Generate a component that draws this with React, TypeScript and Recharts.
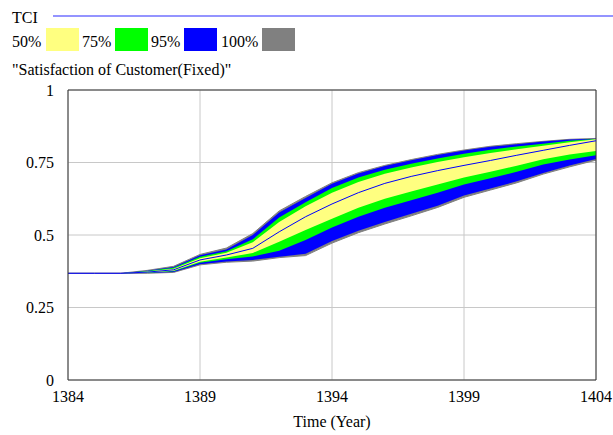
import React from 'react';
import {
  ComposedChart,
  Area,
  Line,
  XAxis,
  YAxis,
  CartesianGrid,
  ReferenceLine,
} from 'recharts';

// Vensim-style sensitivity bands for "Satisfaction of Customer(Fixed)"
const years = [
  1384, 1385, 1386, 1387, 1388, 1389, 1390, 1391, 1392, 1393, 1394,
  1395, 1396, 1397, 1398, 1399, 1400, 1401, 1402, 1403, 1404,
];

const tci = [
  0.368, 0.368, 0.368, 0.372, 0.38, 0.414, 0.431, 0.454, 0.511, 0.563, 0.607,
  0.646, 0.678, 0.702, 0.722, 0.74, 0.757, 0.775, 0.792, 0.809, 0.825,
];

const hi100 = [
  0.368, 0.368, 0.368, 0.378, 0.392, 0.433, 0.455, 0.505, 0.583, 0.633, 0.68,
  0.715, 0.74, 0.76, 0.778, 0.793, 0.806, 0.815, 0.823, 0.83, 0.833,
];
const hi95 = [
  0.368, 0.368, 0.368, 0.377, 0.39, 0.43, 0.45, 0.5, 0.578, 0.628, 0.677,
  0.712, 0.738, 0.758, 0.776, 0.791, 0.804, 0.813, 0.822, 0.829, 0.832,
];
const hi75 = [
  0.368, 0.368, 0.368, 0.376, 0.387, 0.425, 0.444, 0.485, 0.56, 0.613, 0.662,
  0.698, 0.725, 0.746, 0.764, 0.78, 0.794, 0.805, 0.815, 0.825, 0.831,
];
const hi50 = [
  0.368, 0.368, 0.368, 0.374, 0.384, 0.42, 0.439, 0.475, 0.545, 0.599, 0.646,
  0.683, 0.711, 0.733, 0.752, 0.768, 0.783, 0.796, 0.808, 0.82, 0.83,
];
const lo50 = [
  0.368, 0.368, 0.368, 0.371, 0.377, 0.408, 0.422, 0.438, 0.477, 0.517, 0.556,
  0.594, 0.625, 0.65, 0.674, 0.698, 0.718, 0.739, 0.761, 0.778, 0.79,
];
const lo75 = [
  0.368, 0.368, 0.368, 0.37, 0.375, 0.404, 0.416, 0.426, 0.446, 0.483, 0.526,
  0.563, 0.594, 0.62, 0.646, 0.674, 0.696, 0.718, 0.743, 0.76, 0.775,
];
const lo95 = [
  0.368, 0.368, 0.368, 0.369, 0.372, 0.399, 0.409, 0.414, 0.425, 0.435, 0.479,
  0.515, 0.545, 0.573, 0.601, 0.636, 0.66, 0.685, 0.714, 0.74, 0.762,
];
const lo100 = [
  0.368, 0.368, 0.368, 0.368, 0.371, 0.397, 0.406, 0.41, 0.422, 0.429, 0.472,
  0.508, 0.538, 0.566, 0.595, 0.63, 0.655, 0.68, 0.71, 0.735, 0.758,
];

const xTicks = [1384, 1389, 1394, 1399, 1404];
const yTicks = [0, 0.25, 0.5, 0.75, 1];

const legendItems = [
  { label: '50%', color: '#ffff80' },
  { label: '75%', color: '#00ff00' },
  { label: '95%', color: '#0000ff' },
  { label: '100%', color: '#808080' },
];

const data = years.map((year, i) => ({
  year,
  tci: tci[i],
  b100: [lo100[i], hi100[i]],
  b95: [lo95[i], hi95[i]],
  b75: [lo75[i], hi75[i]],
  b50: [lo50[i], hi50[i]],
}));

const font = '"Liberation Serif", "Times New Roman", serif';
const textStyle = { fontFamily: font, fontSize: 16 };

const Header = () => {
  // x positions of legend labels / swatches
  const textX = [12, 82, 151, 221];
  const boxX = [46, 115, 184, 262];
  return (
    <svg
      width={613}
      height={80}
      style={{ position: 'absolute', left: 0, top: 0, pointerEvents: 'none' }}
    >
      <text x={12} y={23} style={textStyle} fill="#000">
        TCI
      </text>
      <line x1={53} y1={16} x2={613} y2={16} stroke="#2b2bff" strokeWidth={1.2} />
      {legendItems.map((item, i) => (
        <g key={item.label}>
          <text x={textX[i]} y={47} style={textStyle} fill="#000">
            {item.label}
          </text>
          <rect x={boxX[i]} y={28} width={33} height={23} fill={item.color} />
        </g>
      ))}
      <text x={12} y={75} style={textStyle} fill="#000">
        "Satisfaction of Customer(Fixed)"
      </text>
    </svg>
  );
};

export default function App() {
  return (
    <div
      style={{
        position: 'absolute',
        left: 0,
        top: 0,
        width: 613,
        height: 435,
        background: '#fff',
        fontFamily: font,
      }}
    >
      <ComposedChart
        width={613}
        height={435}
        data={data}
        margin={{ top: 90, right: 17, bottom: 25, left: 8 }}
      >
        <CartesianGrid stroke="#c8c8c8" strokeWidth={1} />
        <XAxis
          dataKey="year"
          type="number"
          domain={[1384, 1404]}
          ticks={xTicks}
          tickLine={false}
          tickSize={0}
          tickMargin={11}
          axisLine={{ stroke: '#333' }}
          tick={{ fill: '#000', fontSize: 16, fontFamily: font }}
          label={{
            value: 'Time (Year)',
            position: 'insideBottom',
            offset: -17,
            fill: '#000',
            fontSize: 16,
            fontFamily: font,
          }}
          allowDataOverflow
        />
        <YAxis
          type="number"
          domain={[0, 1]}
          ticks={yTicks}
          width={60}
          tickLine={false}
          tickSize={0}
          tickMargin={14}
          axisLine={{ stroke: '#333' }}
          tick={{ fill: '#000', fontSize: 16, fontFamily: font }}
          tickFormatter={(v: number) => `${v}`}
        />
        <ReferenceLine y={1} stroke="#333" />
        <ReferenceLine x={1404} stroke="#333" />
        <Area
          dataKey="b100"
          type="linear"
          stroke="#808080"
          strokeWidth={1}
          fill="#808080"
          fillOpacity={1}
          isAnimationActive={false}
          dot={false}
          activeDot={false}
        />
        <Area
          dataKey="b95"
          type="linear"
          stroke="none"
          fill="#0000ff"
          fillOpacity={1}
          isAnimationActive={false}
          dot={false}
          activeDot={false}
        />
        <Area
          dataKey="b75"
          type="linear"
          stroke="none"
          fill="#00ff00"
          fillOpacity={1}
          isAnimationActive={false}
          dot={false}
          activeDot={false}
        />
        <Area
          dataKey="b50"
          type="linear"
          stroke="none"
          fill="#ffff80"
          fillOpacity={1}
          isAnimationActive={false}
          dot={false}
          activeDot={false}
        />
        <Line
          dataKey="tci"
          type="linear"
          stroke="#0000ff"
          strokeWidth={1}
          dot={false}
          activeDot={false}
          isAnimationActive={false}
        />
      </ComposedChart>
      <Header />
    </div>
  );
}
